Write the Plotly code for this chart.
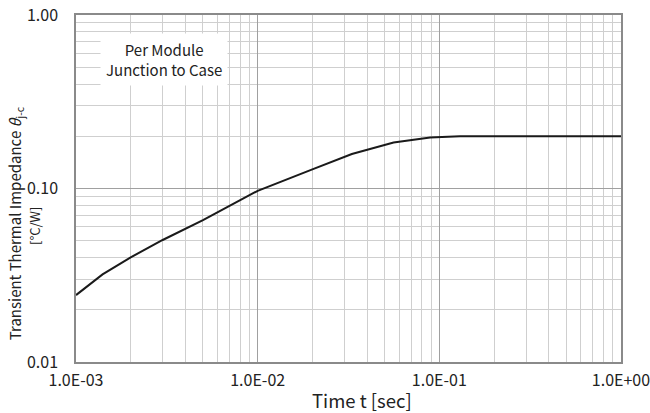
import plotly.graph_objects as go

time_s = [1e-3, 1.4e-3, 2e-3, 3e-3, 5e-3, 1e-2, 2e-2, 3.3e-2, 5.6e-2, 8.9e-2, 1.3e-1, 1.0]
zth = [0.0243, 0.0320, 0.0401, 0.0505, 0.0658, 0.097, 0.129, 0.158, 0.184, 0.197, 0.200, 0.200]

x_tickvals = [1e-3, 1e-2, 1e-1, 1.0]
x_ticktext = ["1.0E-03", "1.0E-02", "1.0E-01", "1.0E+00"]
y_tickvals = [0.01, 0.1, 1.0]
y_ticktext = ["0.01", "0.10", "1.00"]

FONT = "Noto Sans CJK JP, Noto Sans, sans-serif"

fig = go.Figure()
fig.add_trace(go.Scatter(x=time_s, y=zth, mode="lines",
                         line=dict(color="#1a1a1a", width=2), showlegend=False))

fig.update_layout(
    width=650, height=413,
    margin=dict(l=76, r=29, t=15, b=51),
    paper_bgcolor="white", plot_bgcolor="white",
    font=dict(family=FONT, color="#222", size=13),
    xaxis=dict(type="log", range=[-3, 0], tickvals=x_tickvals, ticktext=x_ticktext,
               showgrid=True, gridcolor="#a0a0a0", gridwidth=1,
               minor=dict(showgrid=True, gridcolor="#cfcfcf", gridwidth=1,
                          tickvals=[m * 10**e for e in range(-3, 0) for m in range(2, 10)]),
               showline=True, linecolor="#8a8a8a", linewidth=1.5, mirror=True,
               ticks="", tickfont=dict(size=16), ticklabelstandoff=3,
               ticklabeloverflow="allow",
               automargin=False, zeroline=False),
    yaxis=dict(type="log", range=[-2, 0], tickvals=y_tickvals, ticktext=y_ticktext,
               showgrid=True, gridcolor="#a0a0a0", gridwidth=1,
               minor=dict(showgrid=True, gridcolor="#cfcfcf", gridwidth=1,
                          tickvals=[m * 10**e for e in range(-2, 0) for m in range(2, 10)]),
               showline=True, linecolor="#8a8a8a", linewidth=1.5, mirror=True,
               ticks="", tickfont=dict(size=16), ticklabelstandoff=13,
               ticklabeloverflow="allow",
               automargin=False, zeroline=False),
    annotations=[
        dict(x=0.1615, y=0.873, xref="paper", yref="paper", xanchor="center", yanchor="middle",
             text="Per Module<br>Junction to Case", showarrow=False,
             font=dict(size=15, color="#222"), bgcolor="white",
             borderpad=5, align="center"),
        dict(x=0.525, y=-0.1095, xref="paper", yref="paper", xanchor="center", yanchor="middle",
             showarrow=False, text="Time t [sec]", font=dict(size=18.5, color="#222")),
        dict(x=0, y=0.40, xref="paper", yref="paper", xanchor="center", yanchor="middle",
             xshift=-61, textangle=-90, showarrow=False,
             text="Transient Thermal Impedance <i>θ</i><sub>j-c</sub>",
             font=dict(size=15, color="#222")),
        dict(x=0, y=0.392, xref="paper", yref="paper", xanchor="center", yanchor="middle",
             xshift=-41, textangle=-90, showarrow=False,
             text="[°C/W]", font=dict(size=13, color="#222")),
    ],
)

fig.write_html("out.html", config={"displayModeBar": False},
               post_script="document.body.style.margin='0';")
